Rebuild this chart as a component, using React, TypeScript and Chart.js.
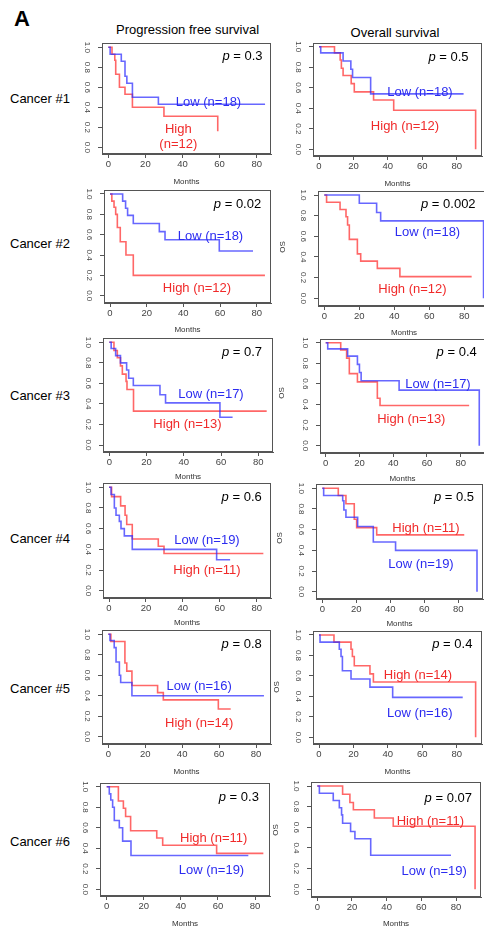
import React, { useEffect, useRef } from "react";
import { Chart, registerables } from "chart.js";

Chart.register(...registerables);

// ---------------- data ----------------
const monthTicks = [0, 20, 40, 60, 80];
const survivalTicks = [0, 0.2, 0.4, 0.6, 0.8, 1.0];
const cancerNames = ["Cancer #1", "Cancer #2", "Cancer #3", "Cancer #4", "Cancer #5", "Cancer #6"];
const pfsPValues = ["0.3", "0.02", "0.7", "0.6", "0.8", "0.3"];
const osPValues = ["0.5", "0.002", "0.4", "0.5", "0.4", "0.07"];
const lowCounts = [18, 18, 17, 19, 16, 19];
const highCounts = [12, 12, 13, 11, 14, 11];

// Kaplan-Meier steps: [month, survival after the event]
const pfs1Low = [[0, 1], [1, 0.93], [7, 0.86], [9, 0.71], [10, 0.64], [13, 0.5], [27, 0.43], [84.5, 0.43]];
const pfs1High = [[0, 1], [2, 0.93], [3.5, 0.87], [4, 0.73], [6, 0.6], [9, 0.53], [13, 0.4], [30, 0.31], [59, 0.16]];
const os1Low = [[0, 1], [1, 0.94], [14, 0.86], [18.5, 0.78], [19.5, 0.7], [30, 0.54], [84, 0.54]];
const os1High = [[0, 1], [9, 0.94], [12.3, 0.87], [13, 0.79], [14, 0.72], [18.7, 0.64], [20.5, 0.56], [31.7, 0.48], [43.4, 0.38], [91, 0]];

const pfs2Low = [[0, 1], [6.9, 0.93], [8.5, 0.86], [9.6, 0.79], [12.7, 0.71], [26.9, 0.63], [30, 0.55], [59.6, 0.44], [78, 0.44]];
const pfs2High = [[0, 1], [1, 0.93], [2.2, 0.87], [3.1, 0.8], [4, 0.67], [5.6, 0.53], [8.7, 0.4], [12.7, 0.2], [84.5, 0.2]];
const os2Low = [[0, 1], [20, 0.92], [29.9, 0.83], [32.2, 0.75], [91, 0]];
const os2High = [[0, 1], [1.3, 0.93], [9, 0.86], [12.4, 0.79], [13.3, 0.71], [14.3, 0.57], [18.9, 0.43], [20.8, 0.36], [30.3, 0.29], [43.2, 0.21], [84.2, 0.21]];

const pfs3Low = [[0, 1], [1, 0.94], [3.4, 0.87], [6, 0.8], [9.3, 0.73], [10.4, 0.65], [12.9, 0.58], [27.2, 0.49], [30.2, 0.41], [59.4, 0.27], [66.2, 0.27]];
const pfs3High = [[0, 1], [2.5, 0.92], [4.3, 0.85], [6, 0.77], [7, 0.69], [9, 0.62], [9.5, 0.54], [13, 0.33], [84.5, 0.33]];
const os3Low = [[0, 1], [1.2, 0.94], [13, 0.87], [18.8, 0.79], [20, 0.71], [21, 0.63], [43.5, 0.54], [91, 0]];
const os3High = [[0, 1], [8.9, 0.93], [12.4, 0.85], [14, 0.7], [18.8, 0.62], [30.6, 0.46], [32.2, 0.39], [85, 0.39]];

const pfs4Low = [[0, 1], [1.1, 0.93], [2.9, 0.8], [3.8, 0.73], [5.6, 0.67], [6.5, 0.6], [8.3, 0.53], [12.6, 0.4], [58.3, 0.3], [65.6, 0.3]];
const pfs4High = [[0, 1], [1.4, 0.91], [6.3, 0.82], [8.7, 0.73], [9.6, 0.64], [12.6, 0.5], [26.7, 0.43], [29.8, 0.36], [83.6, 0.36]];
const os4Low = [[0, 1], [0.8, 0.93], [12, 0.88], [12.7, 0.79], [13.9, 0.72], [20.8, 0.63], [30, 0.48], [43.1, 0.4], [91, 0]];
const os4High = [[0, 1], [9.4, 0.93], [13.9, 0.85], [18.8, 0.7], [20.2, 0.62], [32, 0.55], [83.5, 0.55]];

const pfs5Low = [[0, 1], [0.9, 0.94], [3.2, 0.87], [4.2, 0.73], [6, 0.6], [6.7, 0.53], [12.8, 0.4], [84.3, 0.4]];
const pfs5High = [[0, 1], [1.4, 0.93], [9, 0.72], [10, 0.64], [12.8, 0.5], [26.7, 0.43], [29.8, 0.36], [59.6, 0.27], [66.3, 0.27]];
const os5Low = [[0, 1], [0.6, 0.93], [11.8, 0.86], [12.8, 0.79], [13.6, 0.65], [18.6, 0.57], [29.6, 0.49], [42.8, 0.39], [83.5, 0.39]];
const os5High = [[0, 1], [8.7, 0.93], [18.6, 0.86], [19.4, 0.79], [20.5, 0.7], [29.6, 0.62], [31.6, 0.54], [91, 0]];

const pfs6Low = [[0, 1], [1.4, 0.93], [2.2, 0.87], [3.2, 0.8], [4.1, 0.67], [6.8, 0.6], [8.6, 0.47], [13.1, 0.33], [76.4, 0.33]];
const pfs6High = [[0, 1], [6.3, 0.86], [9, 0.79], [10.2, 0.71], [12.9, 0.57], [27, 0.5], [30.2, 0.43], [59.3, 0.35], [84.5, 0.35]];
const os6Low = [[0, 1], [1.2, 0.93], [9.2, 0.86], [12.7, 0.79], [14, 0.72], [14.6, 0.64], [19.2, 0.56], [21.7, 0.49], [30.8, 0.33], [77.1, 0.33]];
const os6High = [[0, 1], [14.6, 0.92], [18.8, 0.84], [20.8, 0.77], [32.9, 0.69], [43.8, 0.61], [91, 0]];

const pfsLowCurves = [pfs1Low, pfs2Low, pfs3Low, pfs4Low, pfs5Low, pfs6Low];
const pfsHighCurves = [pfs1High, pfs2High, pfs3High, pfs4High, pfs5High, pfs6High];
const osLowCurves = [os1Low, os2Low, os3Low, os4Low, os5Low, os6Low];
const osHighCurves = [os1High, os2High, os3High, os4High, os5High, os6High];

// ---------------- layout (page pixels) ----------------
const FONT = '"Liberation Sans", Arial, Helvetica, sans-serif';
const BLUE_LINE = "rgba(45,45,255,0.72)";
const RED_LINE = "rgba(255,45,45,0.72)";
const BLUE_TEXT = "#2c2cf0";
const RED_TEXT = "#f02a2a";
const AXIS = "#555";
const TICK = "#444";
const Y_W = 30;
const PAD_T = 12;
const PAD_R = 4;
const X_H = 24;

// pixel of month 0 / month 80, pixel of survival 1.0 / 0.0
const pfsGeom = [
  { p0: 108.3, p80: 256.7, q1: 47.3, q0: 147.3 },
  { p0: 110, p80: 256.7, q1: 194, q0: 295.7 },
  { p0: 109.3, p80: 258.3, q1: 342.3, q0: 445 },
  { p0: 109, p80: 256.7, q1: 487.3, q0: 590.7 },
  { p0: 108.3, p80: 256, q1: 634.3, q0: 736.7 },
  { p0: 106.7, p80: 255, q1: 786.7, q0: 889.3 },
];
const osGeom = [
  { p0: 319, p80: 456.7, q1: 46.7, q0: 149.3 },
  { p0: 324.3, p80: 464.3, q1: 195, q0: 298.3 },
  { p0: 325.7, p80: 460.7, q1: 342.7, q0: 445.7 },
  { p0: 322.3, p80: 458.3, q1: 488.3, q0: 591.7 },
  { p0: 319, p80: 456.7, q1: 635, q0: 737.3 },
  { p0: 317.3, p80: 456, q1: 786, q0: 889.3 },
];
const pfsXRange = [-3.38, 87.88];
const osXRange = [-3.64, 94.64];

const pfsText = [
  { p: [242.5, 55], low: [208.5, 100.7], high: [178.3, 128.3], high2: [178.3, 142.7], months: 182 },
  { p: [237.5, 202.7], low: [210.5, 235], high: [197, 286.7], months: 330 },
  { p: [242, 350.7], low: [211, 393.3], high: [187.5, 423.3], months: 477 },
  { p: [241.7, 495.7], low: [207, 539.3], high: [207, 569], months: 623.3 },
  { p: [241.7, 643.3], low: [199.2, 685], high: [199.2, 721.7], months: 771.7 },
  { p: [238.8, 796], low: [211.5, 869], high: [213.7, 836.7], months: 924 },
];
const osText = [
  { p: [448.5, 55.7], low: [420, 91], high: [405, 125], months: 184, os: null },
  { p: [448.3, 203.3], low: [427.5, 230.7], high: [412.5, 288.3], months: 332.7, os: [282.7, 246.7] },
  { p: [456.7, 350.7], low: [438, 383.3], high: [411.3, 417.7], months: 478.5, os: [282, 393] },
  { p: [454, 496], low: [421, 563.3], high: [426, 526.7], months: 624, os: [280, 538] },
  { p: [452.3, 642.7], low: [419.8, 711.7], high: [418, 674.3], months: 771.7, os: [276.7, 687] },
  { p: [448.3, 796.7], low: [434.2, 870], high: [430.3, 820], months: 924, os: [276, 830] },
];
const rowLabelY = [98.3, 243.3, 395, 538.3, 688.3, 840.5];

type Geom = { p0: number; p80: number; q1: number; q0: number };

function boxOf(geom: Geom, xr: number[]) {
  const k = (geom.p80 - geom.p0) / 80;
  const v = geom.q0 - geom.q1;
  const L = Math.round(geom.p0 + xr[0] * k);
  const R = Math.round(geom.p0 + xr[1] * k);
  const T = Math.round(geom.q1 - 0.04 * v);
  const B = Math.round(geom.q0 + 0.07 * v);
  return {
    L, R, T, B,
    xmin: (L - geom.p0) / k,
    xmax: (R - geom.p0) / k,
    ymax: (geom.q0 - T) / v,
    ymin: (geom.q0 - B) / v,
  };
}

const boxPlugin = {
  id: "rbox",
  afterDatasetsDraw(chart: any) {
    const { ctx, chartArea: a } = chart;
    ctx.save();
    ctx.strokeStyle = AXIS;
    ctx.lineWidth = 1;
    const l = Math.round(a.left) + 0.5;
    const t = Math.round(a.top) + 0.5;
    const r = Math.round(a.right) - 0.5;
    const b = Math.round(a.bottom) - 0.5;
    ctx.strokeRect(l, t, r - l, b - t);
    ctx.restore();
  },
};

function KMPanel({ geom, xr, low, high }: { geom: Geom; xr: number[]; low: number[][]; high: number[][] }) {
  const ref = useRef<HTMLCanvasElement>(null);
  const bx = boxOf(geom, xr);
  const cl = bx.L - Y_W;
  const ct = bx.T - PAD_T;
  const cw = bx.R + PAD_R - cl;
  const ch = bx.B + X_H - ct;

  useEffect(() => {
    const chart = new Chart(ref.current as HTMLCanvasElement, {
      type: "line",
      data: {
        datasets: [
          {
            data: low.map(([x, y]) => ({ x, y })),
            borderColor: BLUE_LINE,
            borderWidth: 1.6,
            stepped: true,
            pointRadius: 0,
            fill: false,
          },
          {
            data: high.map(([x, y]) => ({ x, y })),
            borderColor: RED_LINE,
            borderWidth: 1.6,
            stepped: true,
            pointRadius: 0,
            fill: false,
          },
        ],
      },
      options: {
        animation: false,
        responsive: false,
        events: [],
        layout: { padding: { top: PAD_T, right: PAD_R, left: 0, bottom: 0 } },
        plugins: { legend: { display: false }, tooltip: { enabled: false } },
        scales: {
          x: {
            type: "linear",
            min: bx.xmin,
            max: bx.xmax,
            afterBuildTicks: (s: any) => {
              s.ticks = monthTicks.map((v) => ({ value: v }));
            },
            afterFit: (s: any) => {
              s.height = X_H;
            },
            grid: { drawOnChartArea: false, tickLength: 4, color: AXIS },
            border: { color: AXIS },
            ticks: {
              autoSkip: false,
              maxRotation: 0,
              padding: 1,
              color: TICK,
              font: { size: 9.5, family: FONT },
              callback: (v: any) => String(v),
            },
          },
          y: {
            type: "linear",
            min: bx.ymin,
            max: bx.ymax,
            afterBuildTicks: (s: any) => {
              s.ticks = survivalTicks.map((v) => ({ value: v }));
            },
            afterFit: (s: any) => {
              s.width = Y_W;
            },
            grid: { drawOnChartArea: false, tickLength: 4, color: AXIS },
            border: { color: AXIS },
            ticks: {
              autoSkip: false,
              minRotation: -90,
              maxRotation: -90,
              crossAlign: "center",
              padding: 5,
              color: TICK,
              font: { size: 8, family: FONT },
              callback: (v: any) => Number(v).toFixed(1),
            },
          },
        },
      } as any,
      plugins: [boxPlugin],
    });
    return () => chart.destroy();
  }, []);

  return (
    <canvas
      ref={ref}
      width={cw}
      height={ch}
      style={{ position: "absolute", left: cl, top: ct, width: cw, height: ch }}
    />
  );
}

function Txt({ x, y, children, size = 13, color = "#000", align = "center", style = {} }: any) {
  const tx = align === "left" ? "0" : "-50%";
  return (
    <div
      style={{
        position: "absolute",
        left: x,
        top: y,
        transform: `translate(${tx},-50%)`,
        whiteSpace: "nowrap",
        fontSize: size,
        lineHeight: 1,
        color,
        fontFamily: FONT,
        ...style,
      }}
    >
      {children}
    </div>
  );
}

export default function App() {
  return (
    <div
      style={{
        position: "absolute",
        left: 0,
        top: 0,
        width: 484,
        height: 931,
        overflow: "hidden",
        background: "#fff",
        fontFamily: FONT,
      }}
    >
      <Txt x={14} y={19.2} size={22} align="left" style={{ fontWeight: "bold" }}>A</Txt>
      <Txt x={187.5} y={29}>Progression free survival</Txt>
      <Txt x={395} y={32.3}>Overall survival</Txt>

      {cancerNames.map((name, i) => {
        const pb = boxOf(pfsGeom[i], pfsXRange);
        const ob = boxOf(osGeom[i], osXRange);
        const pt = pfsText[i];
        const ot = osText[i];
        return (
          <React.Fragment key={name}>
            <Txt x={10} y={rowLabelY[i]} align="left">{name}</Txt>

            <KMPanel geom={pfsGeom[i]} xr={pfsXRange} low={pfsLowCurves[i]} high={pfsHighCurves[i]} />
            <KMPanel geom={osGeom[i]} xr={osXRange} low={osLowCurves[i]} high={osHighCurves[i]} />

            <Txt x={pt.p[0]} y={pt.p[1]}>
              <span style={{ fontStyle: "italic" }}>p</span> = {pfsPValues[i]}
            </Txt>
            <Txt x={pt.low[0]} y={pt.low[1]} color={BLUE_TEXT}>{`Low (n=${lowCounts[i]})`}</Txt>
            {pt.high2 ? (
              <>
                <Txt x={pt.high[0]} y={pt.high[1]} color={RED_TEXT}>High</Txt>
                <Txt x={pt.high2[0]} y={pt.high2[1]} color={RED_TEXT}>{`(n=${highCounts[i]})`}</Txt>
              </>
            ) : (
              <Txt x={pt.high[0]} y={pt.high[1]} color={RED_TEXT}>{`High (n=${highCounts[i]})`}</Txt>
            )}
            <Txt x={(pb.L + pb.R) / 2} y={pt.months} size={8} color="#333">Months</Txt>

            <Txt x={ot.p[0]} y={ot.p[1]}>
              <span style={{ fontStyle: "italic" }}>p</span> = {osPValues[i]}
            </Txt>
            <Txt x={ot.low[0]} y={ot.low[1]} color={BLUE_TEXT}>{`Low (n=${lowCounts[i]})`}</Txt>
            <Txt x={ot.high[0]} y={ot.high[1]} color={RED_TEXT}>{`High (n=${highCounts[i]})`}</Txt>
            <Txt x={(ob.L + ob.R) / 2} y={ot.months} size={8} color="#333">Months</Txt>
            {ot.os ? (
              <Txt x={ot.os[0]} y={ot.os[1]} size={8} color="#333" style={{ transform: "translate(-50%,-50%) rotate(-90deg)" }}>OS</Txt>
            ) : null}
          </React.Fragment>
        );
      })}
    </div>
  );
}
